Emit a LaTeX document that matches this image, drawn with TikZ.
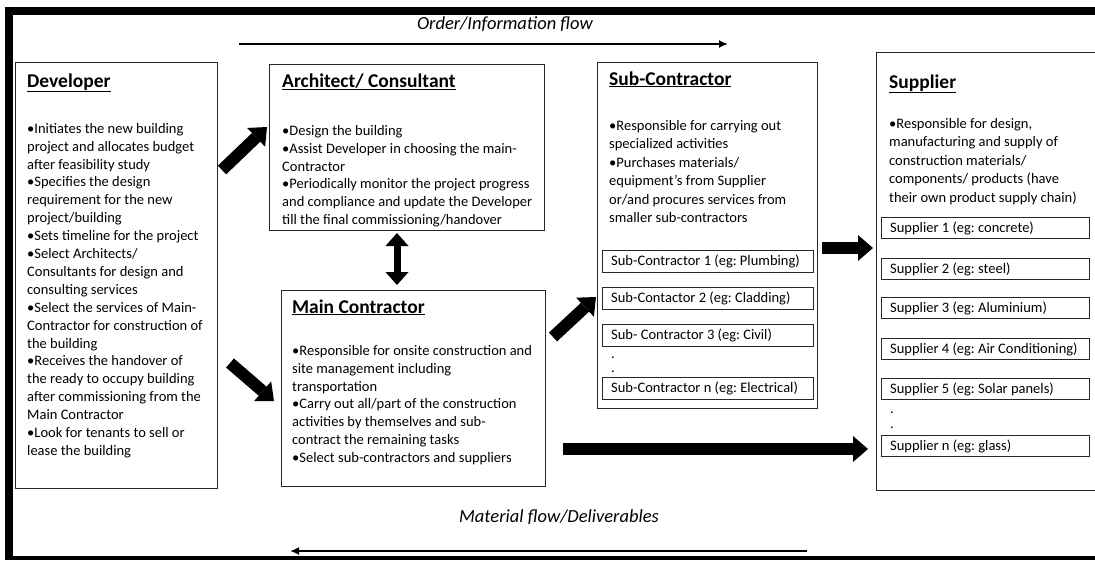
\documentclass[tikz,border=0pt]{standalone}
\usepackage{fontspec}
\setmainfont{Carlito}
\usetikzlibrary{arrows.meta}
\frenchspacing
\begin{document}
\begin{tikzpicture}[x=1pt,y=-1pt,
  box/.style={draw=black!85, line width=1.1pt, inner sep=0pt, anchor=north west},
  head/.style={anchor=base west, inner sep=0pt, font=\fontsize{19.5}{22}\selectfont\bfseries},
  body/.style={anchor=north west, inner sep=0pt, align=left, font=\fontsize{14.5}{17.9}\selectfont},
  inbox/.style={draw=black!85, line width=1pt, anchor=north west, inner sep=0pt, minimum height=22pt},
  inlbl/.style={anchor=west, inner sep=0pt, font=\fontsize{14.5}{17}\selectfont},
  dotlbl/.style={anchor=base west, inner sep=0pt, font=\fontsize{14.5}{17}\selectfont},
  blk/.style={line width=12pt, -{Triangle[length=15pt,width=26pt,line width=0pt]}},
  flowarrow/.style={line width=2.2pt, -{Latex[length=9pt,width=8pt]}},
  flowlbl/.style={inner sep=0pt, font=\fontsize{18.5}{22}\selectfont\itshape}
]
\useasboundingbox (0,0) rectangle (1095,560);
% frame
\fill (5,7) rectangle (1095,15);
\fill (5,7) rectangle (13,560);
\fill (5,555.5) rectangle (1095,560);

% flow labels and arrows
\node[flowlbl] (toplbl) at (505,24) {Order/Information flow};
\coordinate (tfs) at (239,44);
\coordinate (tfe) at (728,44);
\draw[flowarrow] (tfs) -- (tfe);
\node[flowlbl] (botlbl) at (559,517) {Material flow/Deliverables};
\coordinate (bfs) at (807,551);
\coordinate (bfe) at (290,551);
\draw[flowarrow] (bfs) -- (bfe);

% Developer
\node[box, minimum width=202pt, minimum height=426pt] (dev) at (15,62) {};
\node[head] (devh) at (27,87) {\underline{Developer}};
\node[body] (devb) at (27,123) {•Initiates the new building\\
project and allocates budget\\
after feasibility study\\
•Specifies the design\\
requirement for the new\\
project/building\\
•Sets timeline for the project\\
•Select Architects/\\
Consultants for design and\\
consulting services\\
•Select the services of Main-\\
Contractor for construction of\\
the building\\
•Receives the handover of\\
the ready to occupy building\\
after commissioning from the\\
Main Contractor\\
•Look for tenants to sell or\\
lease the building};

% Architect
\node[box, minimum width=275pt, minimum height=166pt] (arch) at (269,64) {};
\node[head] (archh) at (282,87) {\underline{Architect/ Consultant}};
\node[body] (archb) at (282,125) {•Design the building\\
•Assist Developer in choosing the main-\\
Contractor\\
•Periodically monitor the project progress\\
and compliance and update the Developer\\
till the final commissioning/handover};

% Main Contractor
\node[box, minimum width=264pt, minimum height=196pt] (main) at (281,290) {};
\node[head] (mainh) at (292,313) {\underline{Main Contractor}};
\node[body] (mainb) at (292,345) {•Responsible for onsite construction and\\
site management including\\
transportation\\
•Carry out all/part of the construction\\
activities by themselves and sub-\\
contract the remaining tasks\\
•Select sub-contractors and suppliers};

% Sub-Contractor
\node[box, minimum width=220pt, minimum height=346pt] (sub) at (597,62) {};
\node[head] (subh) at (609,85) {\underline{Sub-Contractor}};
\node[body, font=\fontsize{14.5}{18.5}\selectfont] (subb) at (609,120) {•Responsible for carrying out\\
specialized activities\\
•Purchases materials/\\
equipment’s from Supplier\\
or/and procures services from\\
smaller sub-contractors};
\node[inbox, minimum width=211pt] (sc1) at (602,250) {};
\node[inlbl] (sc1t) at ([xshift=9pt]sc1.west) {Sub-Contractor 1 (eg: Plumbing)};
\node[inbox, minimum width=211pt] (sc2) at (602,287) {};
\node[inlbl] (sc2t) at ([xshift=9pt]sc2.west) {Sub-Contactor 2 (eg: Cladding)};
\node[inbox, minimum width=211pt] (sc3) at (602,324) {};
\node[inlbl] (sc3t) at ([xshift=9pt]sc3.west) {Sub- Contractor 3 (eg: Civil)};
\node[dotlbl] (scd1) at (611,358) {.};
\node[dotlbl] (scd2) at (611,372) {.};
\node[inbox, minimum width=211pt] (scn) at (602,377) {};
\node[inlbl] (scnt) at ([xshift=9pt]scn.west) {Sub-Contractor n (eg: Electrical)};

% Supplier
\node[box, minimum width=224pt, minimum height=438pt] (sup) at (876,52) {};
\node[head] (suph) at (889,88) {\underline{Supplier}};
\node[body, font=\fontsize{14.5}{18.5}\selectfont] (supb) at (889,118) {•Responsible for design,\\
manufacturing and supply of\\
construction materials/\\
components/ products (have\\
their own product supply chain)};
\node[inbox, minimum width=208pt, minimum height=21pt] (s1) at (881,217) {};
\node[inlbl] (s1t) at ([xshift=9pt]s1.west) {Supplier 1 (eg: concrete)};
\node[inbox, minimum width=208pt, minimum height=21pt] (s2) at (881,258) {};
\node[inlbl] (s2t) at ([xshift=9pt]s2.west) {Supplier 2 (eg: steel)};
\node[inbox, minimum width=208pt, minimum height=21pt] (s3) at (881,297) {};
\node[inlbl] (s3t) at ([xshift=9pt]s3.west) {Supplier 3 (eg: Aluminium)};
\node[inbox, minimum width=208pt, minimum height=21pt] (s4) at (881,338) {};
\node[inlbl] (s4t) at ([xshift=9pt]s4.west) {Supplier 4 (eg: Air Conditioning)};
\node[inbox, minimum width=208pt, minimum height=21pt] (s5) at (881,378) {};
\node[inlbl] (s5t) at ([xshift=9pt]s5.west) {Supplier 5 (eg: Solar panels)};
\node[dotlbl] (sd1) at (890,413) {.};
\node[dotlbl] (sd2) at (890,428) {.};
\node[inbox, minimum width=208pt, minimum height=21pt] (sn) at (881,435) {};
\node[inlbl] (snt) at ([xshift=9pt]sn.west) {Supplier n (eg: glass)};

% block arrows
\coordinate (a1s) at (222,170);
\coordinate (a1e) at (267,127);
\draw[blk] (a1s) -- (a1e);
\coordinate (a2s) at (230,363);
\coordinate (a2e) at (274,401);
\draw[blk] (a2s) -- (a2e);
\coordinate (a3s) at (397,233);
\coordinate (a3e) at (397,285);
\draw[line width=7pt, {Triangle[length=13pt,width=23pt,line width=0pt]}-{Triangle[length=13pt,width=23pt,line width=0pt]}] (a3s) -- (a3e);
\coordinate (a4s) at (553,337);
\coordinate (a4e) at (596,297);
\draw[blk] (a4s) -- (a4e);
\coordinate (a5s) at (822,248);
\coordinate (a5e) at (873,248);
\draw[blk] (a5s) -- (a5e);
\coordinate (a6s) at (563,449);
\coordinate (a6e) at (868,449);
\draw[blk] (a6s) -- (a6e);
\end{tikzpicture}
\end{document}
